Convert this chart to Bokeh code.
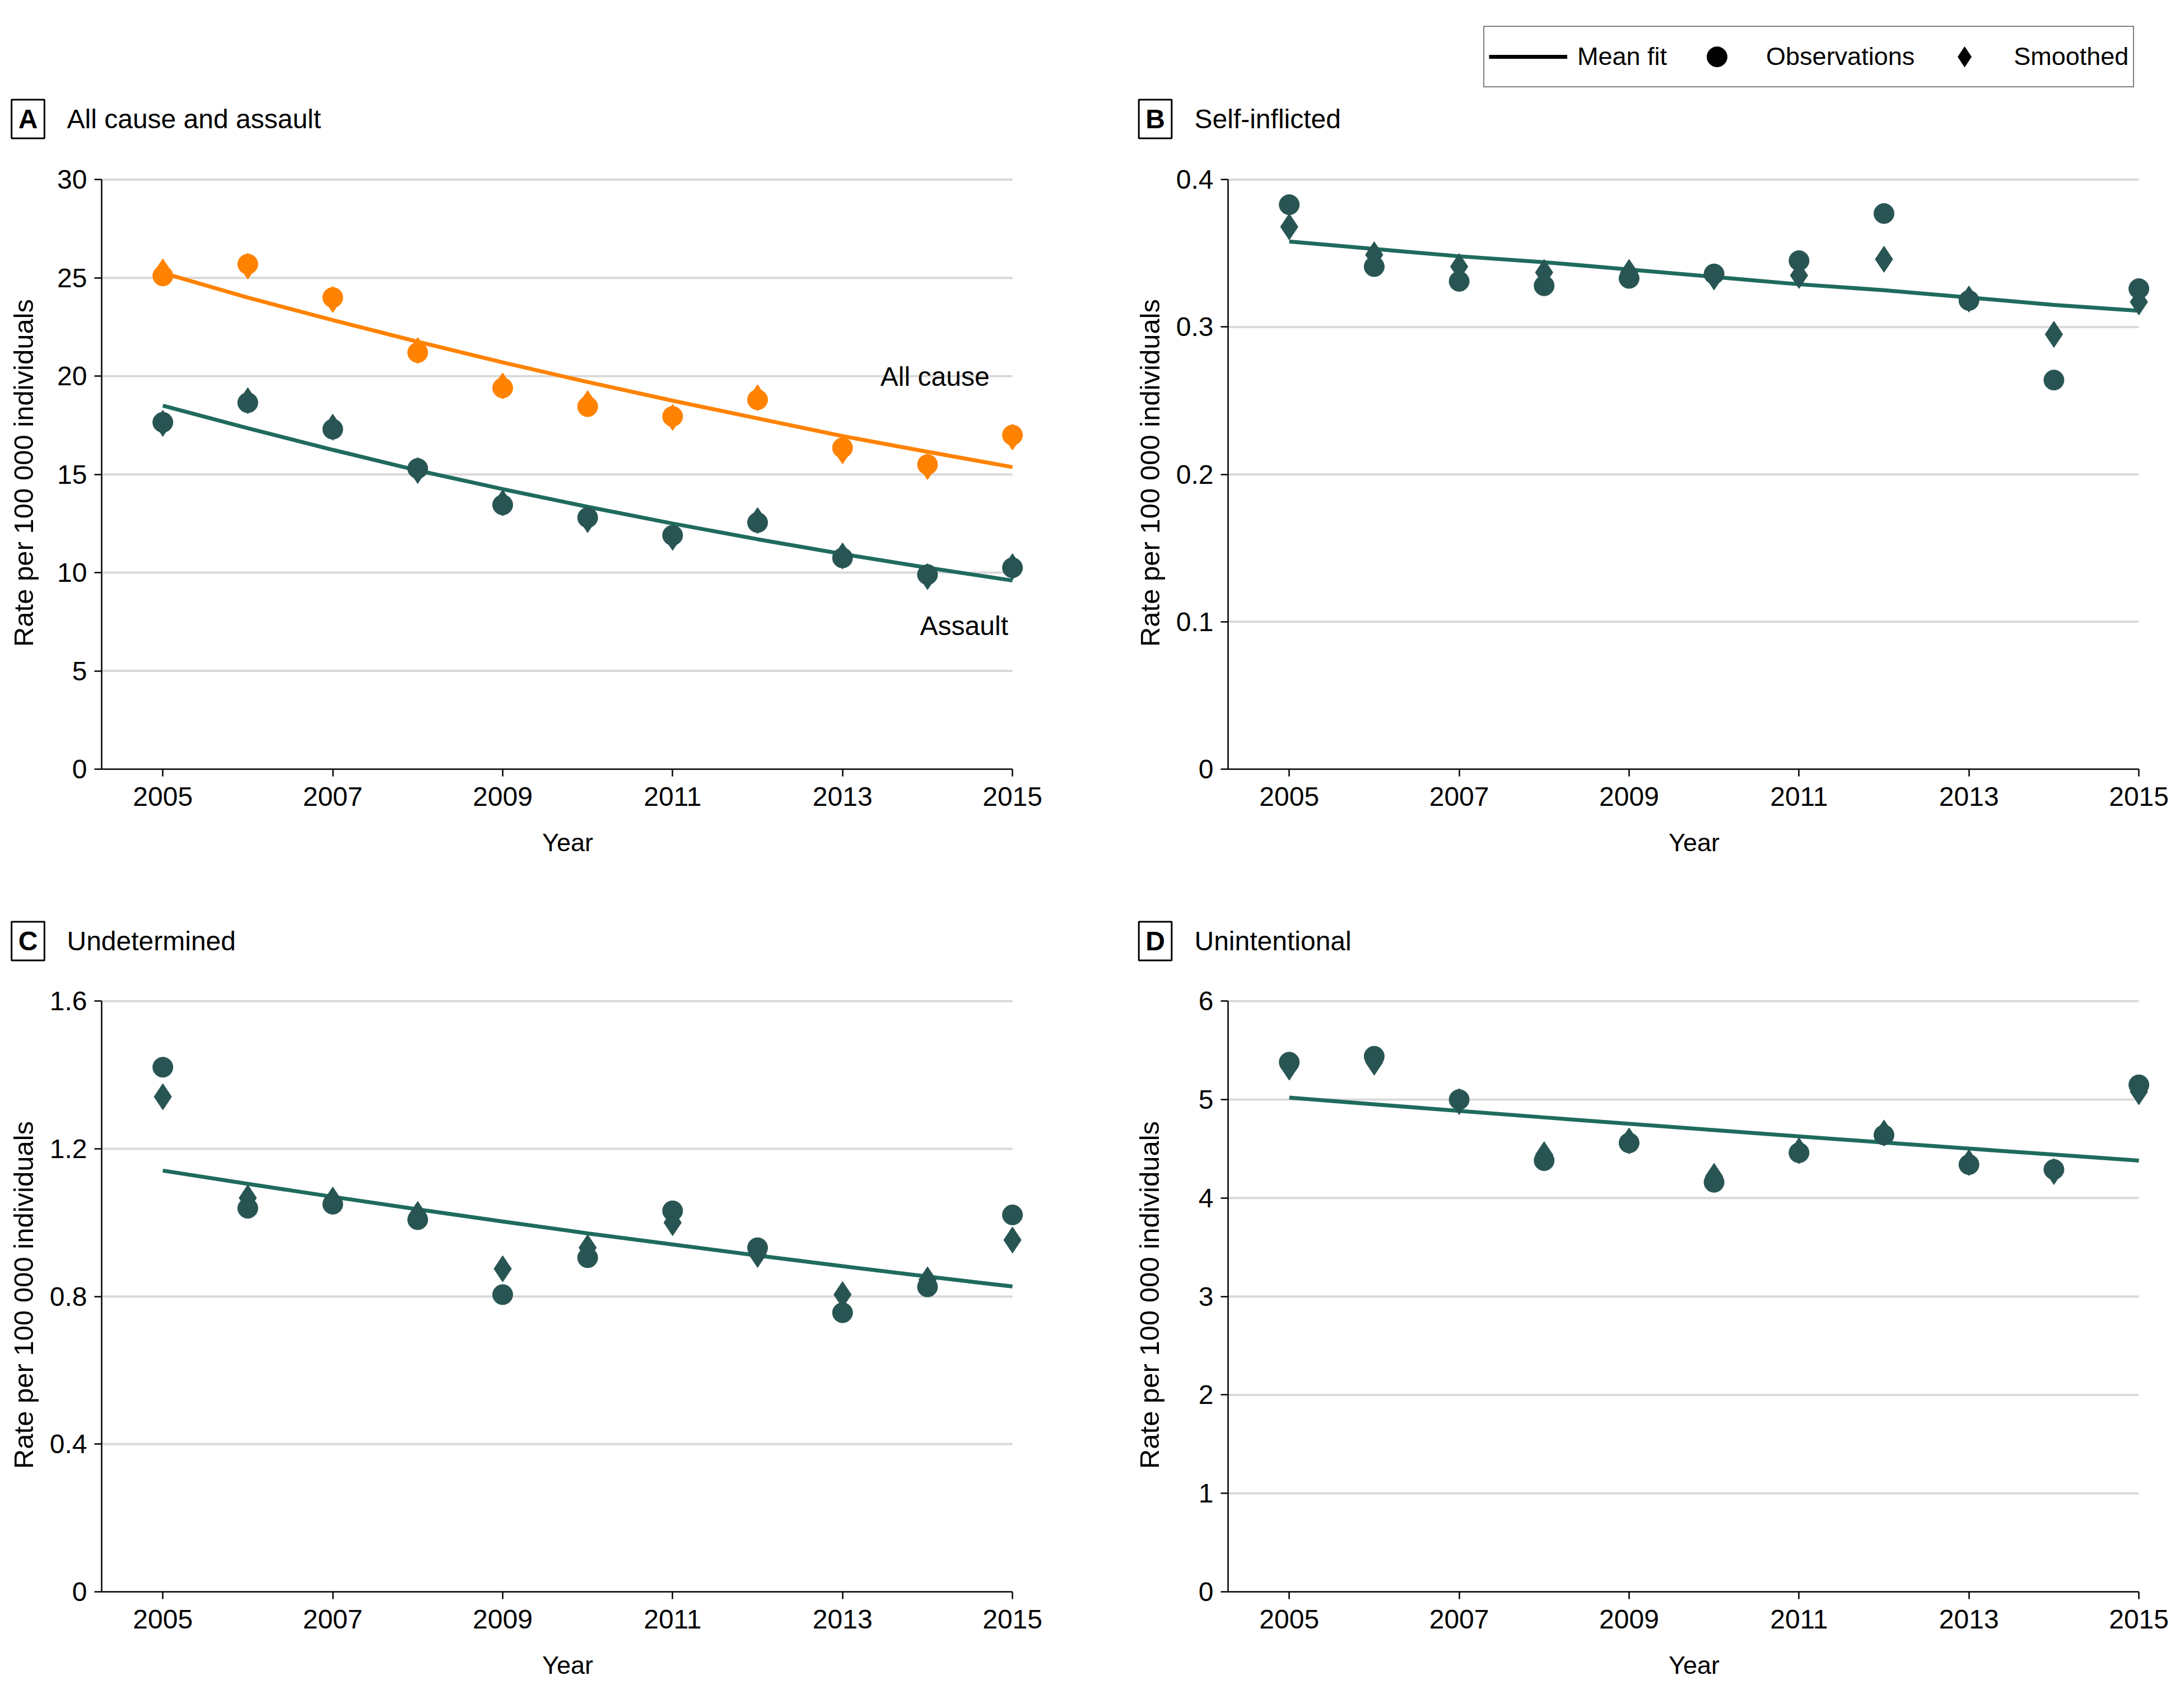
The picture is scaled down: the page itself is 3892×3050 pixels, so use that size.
from bokeh.plotting import figure
from bokeh.models import Range1d, FixedTicker, Label, Legend, LegendItem
from bokeh.layouts import column, row
from bokeh.embed import file_html
from bokeh.resources import INLINE

# ---------------- data ----------------
years = [2005, 2006, 2007, 2008, 2009, 2010, 2011, 2012, 2013, 2014, 2015]
x_ticks = [2005, 2007, 2009, 2011, 2013, 2015]
x_tick_labels = ["2005", "2007", "2009", "2011", "2013", "2015"]

allcause_obs = [25.1, 25.7, 24.0, 21.2, 19.4, 18.45, 17.95, 18.8, 16.35, 15.5, 17.0]
allcause_smooth = [25.3, 25.6, 23.9, 21.3, 19.5, 18.6, 17.9, 18.9, 16.2, 15.4, 16.9]
allcause_fit = [25.25, 24.0, 22.85, 21.75, 20.7, 19.7, 18.75, 17.85, 16.95, 16.15, 15.37]
assault_obs = [17.65, 18.65, 17.3, 15.3, 13.45, 12.8, 11.9, 12.55, 10.75, 9.9, 10.25]
assault_smooth = [17.6, 18.75, 17.4, 15.2, 13.55, 12.7, 11.8, 12.65, 10.85, 9.8, 10.3]
assault_fit = [18.5, 17.35, 16.25, 15.2, 14.25, 13.35, 12.5, 11.7, 10.95, 10.25, 9.6]

self_obs = [0.383, 0.341, 0.331, 0.328, 0.333, 0.336, 0.345, 0.377, 0.318, 0.264, 0.326]
self_smooth = [0.368, 0.349, 0.341, 0.337, 0.337, 0.334, 0.335, 0.346, 0.319, 0.295, 0.317]
self_fit = [0.358, 0.353, 0.348, 0.344, 0.339, 0.334, 0.329, 0.325, 0.320, 0.315, 0.311]

undet_obs = [1.421, 1.039, 1.050, 1.008, 0.805, 0.905, 1.032, 0.932, 0.756, 0.826, 1.021]
undet_smooth = [1.341, 1.067, 1.061, 1.022, 0.875, 0.932, 1.0, 0.914, 0.805, 0.845, 0.953]
undet_fit = [1.141, 1.105, 1.07, 1.036, 1.003, 0.971, 0.941, 0.911, 0.882, 0.854, 0.827]

unint_obs = [5.38, 5.44, 5.0, 4.38, 4.56, 4.16, 4.46, 4.64, 4.34, 4.29, 5.15]
unint_smooth = [5.33, 5.38, 4.98, 4.44, 4.58, 4.22, 4.48, 4.66, 4.36, 4.27, 5.08]
unint_fit = [5.02, 4.952, 4.885, 4.819, 4.754, 4.69, 4.626, 4.564, 4.502, 4.441, 4.38]

a_ticks = [0, 5, 10, 15, 20, 25, 30]
a_tick_labels = ["0", "5", "10", "15", "20", "25", "30"]
b_ticks = [0, 0.1, 0.2, 0.3, 0.4]
b_tick_labels = ["0", "0.1", "0.2", "0.3", "0.4"]
c_ticks = [0, 0.4, 0.8, 1.2, 1.6]
c_tick_labels = ["0", "0.4", "0.8", "1.2", "1.6"]
d_ticks = [0, 1, 2, 3, 4, 5, 6]
d_tick_labels = ["0", "1", "2", "3", "4", "5", "6"]

legend_labels = ["Mean fit", "Observations", "Smoothed"]

# ---------------- style ----------------
TEAL_M = "#285553"
TEAL_L = "#1f6b5e"
ORANGE = "#ff8200"
GRID = "#d9d9d9"
FONT = "Liberation Sans"
X_START = 2004.28
X_END = 2015.25
W = 1946


def make_header(letter, title, height, box_x, title_x, text_y):
    h = figure(width=W, height=height, x_range=Range1d(0, 1), y_range=Range1d(0, 1),
               output_backend="svg", toolbar_location=None,
               x_axis_location=None, y_axis_location=None, min_border=0)
    h.outline_line_color = None
    h.grid.visible = False
    h.add_layout(Label(x=box_x, y=text_y, x_units="screen", y_units="screen", text=letter,
                       text_font=FONT, text_font_style="bold", text_font_size="48px",
                       text_color="black",
                       text_align="center", text_baseline="middle",
                       border_line_color="black", border_line_width=3,
                       padding=(12, 8)))
    h.add_layout(Label(x=title_x, y=text_y, x_units="screen", y_units="screen", text=title,
                       text_font=FONT, text_font_size="48px", text_color="black",
                       text_align="left", text_baseline="middle"))
    return h


def make_panel(yticks, ylabels, height, mbl, mbr, mbt, mbb, ylab_standoff):
    top = yticks[-1] * 1.005
    p = figure(width=W, height=height,
               x_range=Range1d(X_START, X_END), y_range=Range1d(0, top),
               output_backend="svg", toolbar_location=None,
               min_border_left=mbl, min_border_right=mbr,
               min_border_top=mbt, min_border_bottom=mbb)
    p.outline_line_color = None
    p.grid.visible = False

    gy = [t for t in yticks if t > 0]
    p.segment(x0=[X_START] * len(gy), x1=[x_ticks[-1]] * len(gy), y0=gy, y1=gy,
              line_color=GRID, line_width=4)

    xa = p.xaxis[0]
    xa.ticker = FixedTicker(ticks=x_ticks)
    xa.major_label_overrides = dict(zip(x_ticks, x_tick_labels))
    xa.bounds = (X_START, x_ticks[-1])
    xa.axis_label = "Year"
    ya = p.yaxis[0]
    ya.ticker = FixedTicker(ticks=yticks)
    ya.major_label_overrides = dict(zip(yticks, ylabels))
    ya.bounds = (0, yticks[-1])
    ya.axis_label = "Rate per 100 000 individuals"
    for ax in (xa, ya):
        ax.minor_tick_line_color = None
        ax.major_tick_in = 0
        ax.major_tick_out = 13
        ax.major_tick_line_width = 2.5
        ax.axis_line_width = 2.5
        ax.axis_line_color = "black"
        ax.major_tick_line_color = "black"
        ax.major_label_text_font = FONT
        ax.major_label_text_font_size = "48px"
        ax.major_label_text_color = "black"
        ax.axis_label_text_font = FONT
        ax.axis_label_text_font_style = "normal"
        ax.axis_label_text_color = "black"
    xa.axis_label_text_font_size = "45px"
    ya.axis_label_text_font_size = "49px"
    xa.major_label_standoff = 19
    xa.axis_label_standoff = 37
    ya.major_label_standoff = 13
    ya.axis_label_standoff = ylab_standoff
    return p


def add_series(p, obs, smooth, fit, mcolor, lcolor):
    p.line(years, fit, line_color=lcolor, line_width=7)
    p.scatter(years, obs, marker="circle", size=36, color=mcolor)
    p.scatter(years, smooth, marker="diamond", size=47, color=mcolor)


TOP_HEAD, TOP_H = 260, 1300
BOT_HEAD, BOT_H = 180, 1310

# headers
ha = make_header("A", "All cause and assault", TOP_HEAD, 49.5, 119, 48)
hb = make_header("B", "Self-inflicted", TOP_HEAD, 116, 186, 48)
hc = make_header("C", "Undetermined", BOT_HEAD, 49.5, 119, 60)
hd = make_header("D", "Unintentional", BOT_HEAD, 116, 186, 60)

# legend key renderers (their data lies outside this header's ranges, so only the key shows)
r_line = hb.line(years, self_fit, line_color="black", line_width=7)
r_circ = hb.scatter(years, self_obs, marker="circle", size=36, color="black")
r_diam = hb.scatter(years, self_smooth, marker="diamond", size=47, color="black")
legend = Legend(items=[LegendItem(label=legend_labels[0], renderers=[r_line]),
                       LegendItem(label=legend_labels[1], renderers=[r_circ]),
                       LegendItem(label=legend_labels[2], renderers=[r_diam])],
                orientation="horizontal", location=(702, 104), margin=0,
                border_line_color="black", border_line_width=2.5,
                background_fill_color="white", background_fill_alpha=1.0,
                glyph_width=140, glyph_height=90, padding=8, spacing=19, label_standoff=18,
                label_text_font=FONT, label_text_font_size="45px", label_text_color="black")
hb.add_layout(legend)

# panels
pa = make_panel(a_ticks, a_tick_labels, TOP_H, 181, 101, 55, 187, 30)
add_series(pa, allcause_obs, allcause_smooth, allcause_fit, ORANGE, ORANGE)
add_series(pa, assault_obs, assault_smooth, assault_fit, TEAL_M, TEAL_L)
pa.add_layout(Label(x=2014.73, y=19.97, text="All cause", text_font=FONT, text_font_size="48px",
                    text_color="black", text_align="right", text_baseline="middle"))
pa.add_layout(Label(x=2014.95, y=7.29, text="Assault", text_font=FONT, text_font_size="48px",
                    text_color="black", text_align="right", text_baseline="middle"))

pb = make_panel(b_ticks, b_tick_labels, TOP_H, 246, 36, 55, 187, 17)
add_series(pb, self_obs, self_smooth, self_fit, TEAL_M, TEAL_L)

pc = make_panel(c_ticks, c_tick_labels, BOT_H, 181, 101, 42, 208, 17)
add_series(pc, undet_obs, undet_smooth, undet_fit, TEAL_M, TEAL_L)

pd_ = make_panel(d_ticks, d_tick_labels, BOT_H, 246, 36, 42, 208, 58)
add_series(pd_, unint_obs, unint_smooth, unint_fit, TEAL_M, TEAL_L)

layout = column(row(ha, hb), row(pa, pb), row(hc, hd), row(pc, pd_))
open("out.html", "w").write(file_html(layout, INLINE))
